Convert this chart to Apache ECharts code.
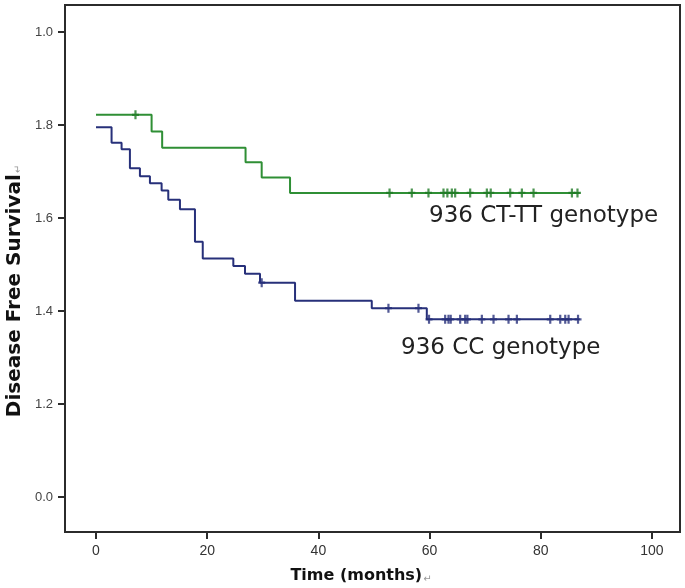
<!DOCTYPE html>
<html>
<head>
<meta charset="utf-8">
<script src="https://cdn.jsdelivr.net/npm/echarts@6/dist/echarts.min.js"></script>
<style>
html,body{margin:0;padding:0;background:#fff;}
#chart{width:685px;height:588px;}
</style>
</head>
<body>
<div id="chart"></div>
<script>
// ---- Data ----
// 936 CT-TT genotype (green) Kaplan-Meier steps
const ctttTimes  = [0, 10.0, 11.9, 26.9, 29.8, 34.9, 87.0];
const ctttSurv   = [0.822, 0.786, 0.751, 0.720, 0.687, 0.654, 0.654];
const ctttCensor = [7.1, 52.8, 56.8, 59.8, 62.5, 63.2, 64.0, 64.6, 67.3, 70.3, 71.0, 74.5, 76.6, 78.7, 85.6, 86.6];

// 936 CC genotype (blue) Kaplan-Meier steps
const ccTimes  = [0, 2.8, 4.6, 6.1, 7.9, 9.7, 11.8, 13.0, 15.1, 17.8, 19.2, 24.7, 26.8, 29.5, 35.8, 49.6, 59.5, 87.0];
const ccSurv   = [0.795, 0.762, 0.748, 0.707, 0.690, 0.675, 0.659, 0.639, 0.619, 0.549, 0.513, 0.497, 0.480, 0.461, 0.422, 0.406, 0.382, 0.382];
const ccCensor = [29.8, 52.6, 58.0, 59.9, 62.8, 63.4, 63.8, 65.5, 66.4, 66.8, 69.4, 71.5, 74.2, 75.7, 81.7, 83.5, 84.4, 85.0, 86.7];

// Axis ticks and labels (as printed in the reference)
const xTicks = [0, 20, 40, 60, 80, 100];
const yTicks = [0, 0.2, 0.4, 0.6, 0.8, 1.0];
const yTickLabels = ['0.0', '1.2', '1.4', '1.6', '1.8', '1.0'];

const seriesNames = ['936 CT-TT genotype', '936 CC genotype'];
const xTitle = 'Time (months)';
const yTitle = 'Disease Free Survival';

// ---- Helpers ----
function pairs(ts, vs) { return ts.map((t, i) => [t, vs[i]]); }
function survAt(ts, vs, t) {
  let v = vs[0];
  for (let i = 0; i < ts.length; i++) { if (ts[i] <= t) v = vs[i]; }
  return v;
}
function censorPts(cs, ts, vs) { return cs.map(t => [t, survAt(ts, vs, t)]); }

const plusPath = 'path://M-1.1,-4.5H1.1V-1.1H3.5V1.1H1.1V4.5H-1.1V1.1H-3.5V-1.1H-1.1Z';

const green = '#2f8f35';
const greenDark = '#1f7a26';
const blue = '#27307a';

const chart = echarts.init(document.getElementById('chart'), null, {renderer: 'canvas'});
chart.setOption({
  animation: false,
  backgroundColor: '#ffffff',
  grid: {
    left: 65, right: 5, top: 5, bottom: 56,
    show: true, borderColor: '#2b2b2b', borderWidth: 2, backgroundColor: 'transparent'
  },
  xAxis: {
    type: 'value',
    min: -5.576, max: 105.04,
    splitLine: {show: false},
    axisLine: {show: false, onZero: false},
    axisTick: {show: true, inside: false, length: 7, lineStyle: {color: '#2b2b2b', width: 2}, customValues: xTicks},
    axisLabel: {
      show: true, customValues: xTicks, margin: 12,
      color: '#333', fontFamily: 'Liberation Sans', fontSize: 14,
      formatter: v => String(Math.round(v))
    }
  },
  yAxis: {
    type: 'value',
    min: -0.0753, max: 1.0581,
    splitLine: {show: false},
    axisLine: {show: false, onZero: false},
    axisTick: {show: true, inside: false, length: 7, lineStyle: {color: '#2b2b2b', width: 2}, customValues: yTicks},
    axisLabel: {
      show: true, customValues: yTicks, margin: 12,
      color: '#444', fontFamily: 'Liberation Sans', fontSize: 13,
      formatter: v => {
        const i = yTicks.findIndex(t => Math.abs(t - v) < 1e-6);
        return i >= 0 ? yTickLabels[i] : '';
      }
    }
  },
  series: [
    {
      name: seriesNames[0], type: 'line', step: 'end', showSymbol: false,
      data: pairs(ctttTimes, ctttSurv),
      lineStyle: {color: green, width: 2}, z: 3
    },
    {
      name: seriesNames[1], type: 'line', step: 'end', showSymbol: false,
      data: pairs(ccTimes, ccSurv),
      lineStyle: {color: blue, width: 2}, z: 3
    },
    {
      name: seriesNames[0] + ' censored', type: 'scatter',
      data: censorPts(ctttCensor, ctttTimes, ctttSurv),
      symbol: plusPath, symbolSize: [7, 9],
      itemStyle: {color: greenDark}, z: 4
    },
    {
      name: seriesNames[1] + ' censored', type: 'scatter',
      data: censorPts(ccCensor, ccTimes, ccSurv),
      symbol: plusPath, symbolSize: [7, 9],
      itemStyle: {color: blue}, z: 4
    }
  ],
  graphic: [
    {
      type: 'text', left: 429, top: 205, z: 10,
      style: {text: seriesNames[0], font: '23px "DejaVu Sans"', fill: '#222'}
    },
    {
      type: 'text', left: 401, top: 337, z: 10,
      style: {text: seriesNames[1], font: '23px "DejaVu Sans"', fill: '#222'}
    },
    {
      type: 'text', x: 361, y: 576, z: 10,
      style: {
        text: '{a|' + xTitle + '}{b|↵}',
        align: 'center', verticalAlign: 'middle',
        rich: {
          a: {font: 'bold 16px "DejaVu Sans"', fill: '#111'},
          b: {font: '10px "DejaVu Sans"', fill: '#999', padding: [6, 0, 0, 1]}
        }
      }
    },
    {
      type: 'text', x: 15, y: 291, rotation: Math.PI / 2, z: 10,
      style: {
        text: '{a|' + yTitle + '}{b|↵}',
        align: 'center', verticalAlign: 'middle',
        rich: {
          a: {font: 'bold 20px "DejaVu Sans"', fill: '#111'},
          b: {font: '10px "DejaVu Sans"', fill: '#999', padding: [6, 0, 0, 1]}
        }
      }
    }
  ]
});
</script>
</body>
</html>
